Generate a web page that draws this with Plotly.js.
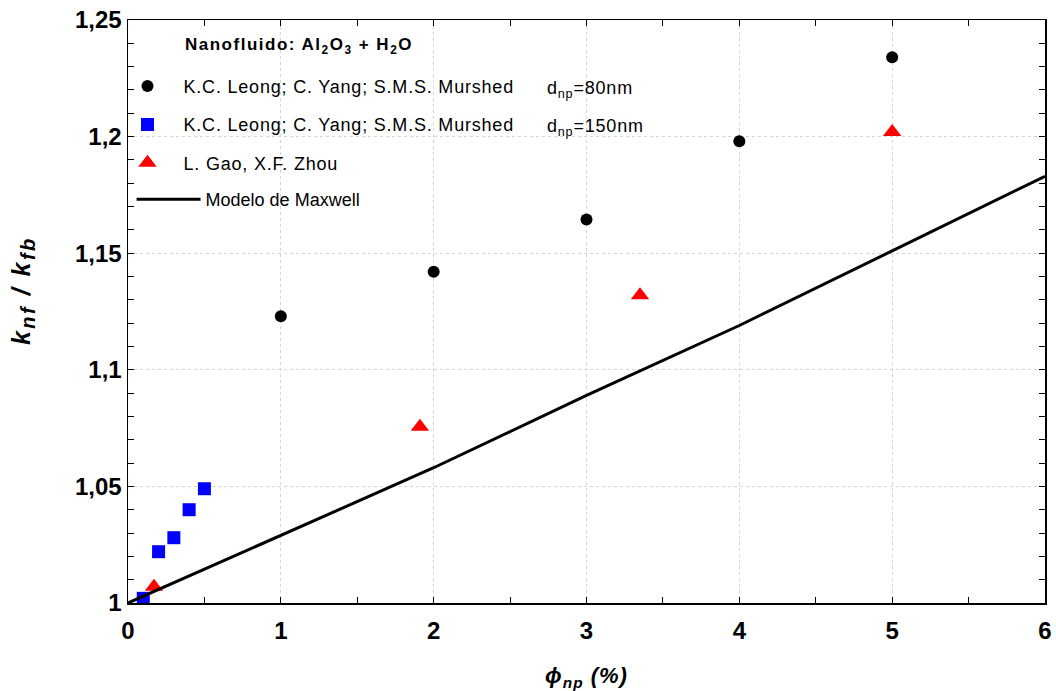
<!DOCTYPE html>
<html>
<head>
<meta charset="utf-8">
<script src="https://cdn.plot.ly/plotly-3.0.1.min.js"></script>
<style>
html,body{margin:0;padding:0;background:#fff}
#chart{width:1056px;height:691px}
.legendtext{letter-spacing:0.8px}
.annotation-text{letter-spacing:0.8px}
.xtitle{letter-spacing:1px}
</style>
</head>
<body>
<div id="chart"></div>
<script>
// Data
const leong80_x = [1, 2, 3, 4, 5];
const leong80_y = [1.123, 1.142, 1.1645, 1.198, 1.234];
const leong150_x = [0.1, 0.2, 0.3, 0.4, 0.5];
const leong150_y = [1.002, 1.022, 1.028, 1.040, 1.049];
const gao_x = [0.17, 1.91, 3.35, 5.0];
const gao_y = [1.007, 1.0756, 1.132, 1.202];
const maxwell_x = [0, 1, 2, 3, 4, 5, 6];
const maxwell_y = [1.0, 1.029, 1.058, 1.089, 1.119, 1.151, 1.183];

const FAM = 'Liberation Sans, Arial, sans-serif';
const legendFont = {family: FAM, size: 18, color: '#000'};

const traces = [
  {x: leong80_x, y: leong80_y, type: 'scatter', mode: 'markers', name: 'K.C. Leong; C. Yang; S.M.S. Murshed',
   legendgroup: 'a', marker: {symbol: 'circle', size: 12, color: '#000'}},
  {x: leong150_x, y: leong150_y, type: 'scatter', mode: 'markers', name: 'K.C. Leong; C. Yang; S.M.S. Murshed',
   legendgroup: 'b', marker: {symbol: 'square', size: 13, color: '#0000ff'}},
  {x: gao_x, y: gao_y, type: 'scatter', mode: 'markers', name: 'L. Gao, X.F. Zhou',
   legendgroup: 'c', marker: {symbol: 'triangle-up', size: 16, color: '#ff0000'}},
  {x: maxwell_x, y: maxwell_y, type: 'scatter', mode: 'lines', name: 'Modelo de Maxwell',
   legend: 'legend2', line: {color: '#000', width: 3}}
];

const axisCommon = {
  showline: true, linecolor: '#000', linewidth: 1.5, mirror: 'ticks',
  ticks: 'inside', ticklen: 6, tickcolor: '#000', tickwidth: 1,
  showgrid: true, gridcolor: '#d4d4d4', griddash: 'dot', gridwidth: 1,
  zeroline: false,
  tickfont: {family: FAM, size: 24, color: '#000', weight: 'bold'}
};

const layout = {
  width: 1056, height: 691,
  margin: {l: 128, r: 11, t: 20, b: 88},
  paper_bgcolor: '#fff', plot_bgcolor: '#fff',
  separators: ',.',
  showlegend: true,
  legend: {x: -0.018, y: 0.918, xanchor: 'left', yanchor: 'top', bgcolor: 'rgba(0,0,0,0)',
           font: legendFont, traceorder: 'grouped', tracegroupgap: 12, itemwidth: 62},
  legend2: {x: 0.0039, y: 0.7238, xanchor: 'left', yanchor: 'top', bgcolor: 'rgba(0,0,0,0)',
           font: legendFont, itemwidth: 64},
  xaxis: Object.assign({}, axisCommon, {
    range: [0, 6], dtick: 1, tick0: 0, ticklabelstandoff: 6,
    minor: {dtick: 0.5, ticks: 'inside', ticklen: 6, tickcolor: '#000', showgrid: false},
    title: {text: '<b><i>ϕ<sub>np</sub> (%)</i></b>', standoff: 25,
            font: {family: FAM, size: 22, color: '#000'}}
  }),
  yaxis: Object.assign({}, axisCommon, {
    range: [1, 1.25], dtick: 0.05, tick0: 1,
    minor: {dtick: 0.01, ticks: 'inside', ticklen: 6, tickcolor: '#000', showgrid: false}
  }),
  annotations: [
    {xref: 'paper', yref: 'paper', x: -0.1145, y: 0.535, xanchor: 'center', yanchor: 'middle', showarrow: false,
     textangle: -90,
     text: '<b><i><span style="letter-spacing:2.5px">k<sub><span style="font-size:20px">nf</span></sub> / k<sub><span style="font-size:20px">fb</span></sub></span></i></b>',
     font: {family: FAM, size: 25, color: '#000'}},
    {xref: 'paper', yref: 'paper', x: 0.060, y: 0.955, xanchor: 'left', yanchor: 'middle', showarrow: false,
     text: '<b><span style="letter-spacing:1.5px">Nanofluido: Al<sub>2</sub>O<sub>3</sub> + H<sub>2</sub>O</span></b>',
     font: {family: FAM, size: 17, color: '#000'}},
    {xref: 'paper', yref: 'paper', x: 0.455, y: 0.881, xanchor: 'left', yanchor: 'middle', showarrow: false,
     text: 'd<sub>np</sub>=80nm', font: legendFont},
    {xref: 'paper', yref: 'paper', x: 0.455, y: 0.816, xanchor: 'left', yanchor: 'middle', showarrow: false,
     text: 'd<sub>np</sub>=150nm', font: legendFont}
  ]
};

Plotly.newPlot('chart', traces, layout, {displayModeBar: false, staticPlot: true});
</script>
</body>
</html>
